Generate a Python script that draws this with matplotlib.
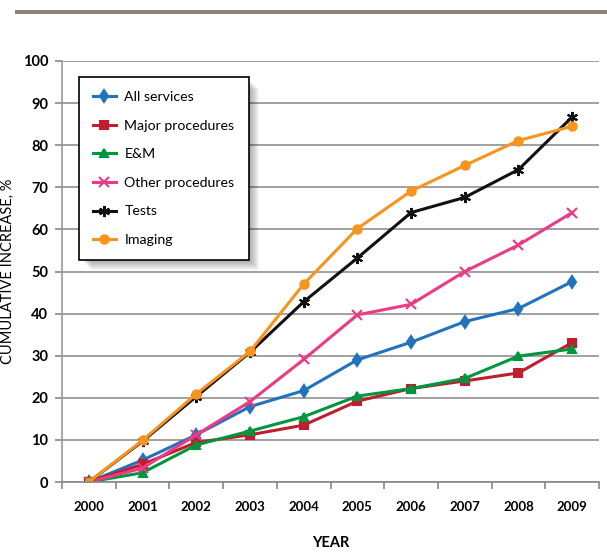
import matplotlib.pyplot as plt
import matplotlib.patches as mpatches
import numpy as np

plt.rcParams['font.family'] = ['Lato', 'DejaVu Sans']

years = ['2000', '2001', '2002', '2003', '2004', '2005', '2006', '2007', '2008', '2009']

all_services = [0, 5.2, 11.2, 17.9, 21.7, 29.0, 33.2, 38.1, 41.2, 47.6]
major_proc = [0, 4.2, 9.4, 11.2, 13.5, 19.2, 22.2, 24.0, 25.9, 33.1]
e_and_m = [0, 2.2, 8.8, 12.1, 15.5, 20.4, 22.2, 24.6, 29.9, 31.6]
other_proc = [0, 3.3, 11.2, 19.1, 29.1, 39.7, 42.2, 50.0, 56.3, 64.0]
tests = [0, 9.7, 20.3, 30.8, 42.8, 53.2, 64.0, 67.6, 74.2, 86.7]
imaging = [0, 9.9, 20.9, 31.0, 47.0, 60.2, 69.1, 75.2, 81.1, 84.5]

fig = plt.figure(figsize=(6.07, 5.54), dpi=100)
ax = fig.add_axes([62/607, 1-482/554, 537/607, 421/554])

# decorative bar at top
fig.add_artist(mpatches.Rectangle((15/607, 1-14/554), 592/607, 4/554,
                                  transform=fig.transFigure, color='#8c8475', lw=0))

x = np.arange(len(years))
series = [
    ('All services', all_services, '#2272bd', 'd', 6),
    ('Major procedures', major_proc, '#be1e2d', 's', 6),
    ('E&M', e_and_m, '#00963f', '^', 6),
    ('Other procedures', other_proc, '#ec3a84', 'x', 7),
    ('Tests', tests, '#111111', (6, 2, 0), 8),
    ('Imaging', imaging, '#f7941d', 'o', 6),
]
for name, vals, col, mk, ms in series:
    ax.plot(x, vals, color=col, marker=mk, markersize=ms, lw=2.2,
            markeredgewidth=1.5, label=name)

ax.set_xlim(-0.5, 9.5)
ax.set_ylim(0, 100)
ax.set_yticks(np.arange(0, 101, 10))
ax.set_xticks(x)
ax.set_xticklabels(years, fontweight='bold', fontsize=9.5)
ax.set_xticks(np.arange(-0.5, 9.6, 1), minor=True)
ax.tick_params(axis='x', which='major', length=0, pad=14)
ax.tick_params(axis='x', which='minor', length=5, color='#888888', width=1.2)
ax.tick_params(axis='y', length=5, color='#888888', width=1.2, labelsize=10.5, pad=5)
for lab in ax.get_yticklabels():
    lab.set_fontweight('bold')
ax.grid(axis='y', color='#999999', lw=1.3)
ax.set_axisbelow(True)
for s in ['top', 'right']:
    ax.spines[s].set_visible(False)
ax.spines['left'].set_color('#999999')
ax.spines['bottom'].set_color('#888888')
ax.spines['left'].set_linewidth(1.2)
ax.spines['bottom'].set_linewidth(1.2)

ax.set_xlabel('YEAR', fontweight='bold', fontsize=10.5, labelpad=16)
ax.set_ylabel('CUMULATIVE INCREASE, %', fontsize=10.5)
ax.yaxis.set_label_coords(-0.088, 0.5)

# blurred shadow behind legend
for i in range(10):
    off = 3 + i
    ax.add_patch(mpatches.Rectangle(((79 + off)/607, 1-(258 + off)/554),
                                    168/607, 181/554, transform=fig.transFigure,
                                    color='black', alpha=0.035, lw=0, zorder=4,
                                    clip_on=False))

leg = ax.legend(loc='upper left', bbox_to_anchor=(79/607, 1-77/554),
                bbox_transform=fig.transFigure, fancybox=False, framealpha=1,
                edgecolor='black', fontsize=10.2, labelspacing=1.17,
                handlelength=1.6, handletextpad=0.6, borderpad=1.0,
                borderaxespad=0)
leg.get_frame().set_linewidth(1.2)
leg.set_zorder(6)

plt.savefig('out.png', dpi=100)
